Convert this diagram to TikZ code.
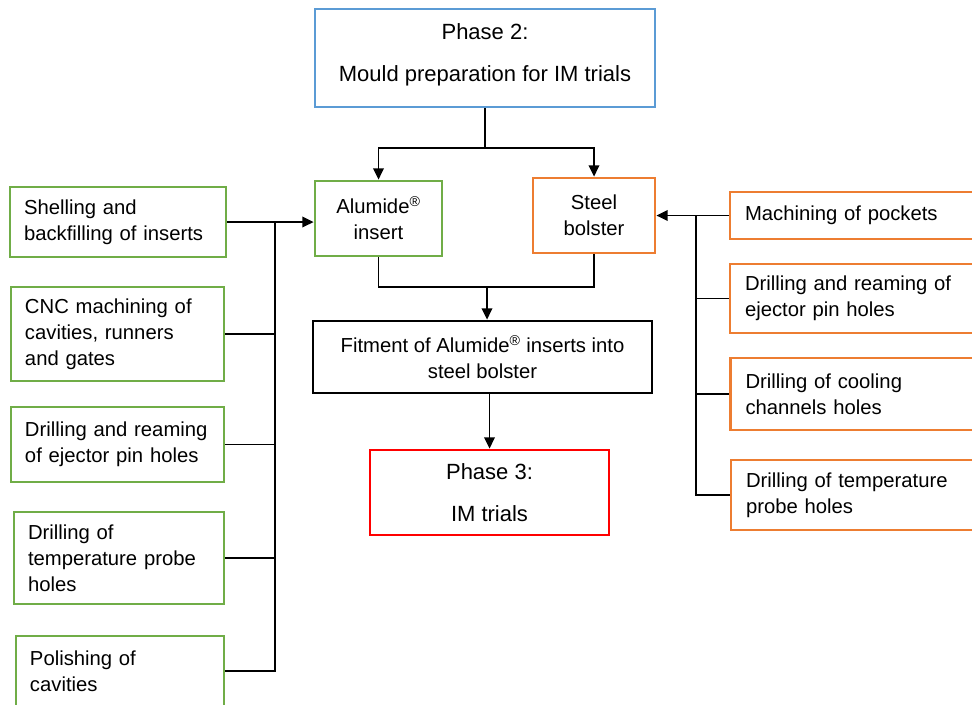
\documentclass[tikz,border=0pt]{standalone}
\usepackage{fontspec}
\setmainfont{Liberation Sans}
\usepackage{tikz}
\usetikzlibrary{positioning,arrows.meta,calc}
\definecolor{mpblue}{HTML}{5B9BD5}
\definecolor{mpgreen}{HTML}{70AD47}
\definecolor{mporange}{HTML}{ED7D31}
\definecolor{mpred}{HTML}{FF0000}
\tikzset{
  box/.style    ={draw, line width=2.1pt, inner sep=0pt, align=center,
                  font=\fontsize{15.2}{19.5}\selectfont},
  phase/.style  ={box, font=\fontsize{16.5}{19.5}\selectfont},
  insbox/.style ={box, draw=mpgreen, align=left, inner xsep=10.5pt},
  bolbox/.style ={box, draw=mporange, align=left, inner xsep=11.25pt,
                  text width=172.5pt, minimum height=#1},
  link/.style   ={line width=1.4pt},
  feed/.style   ={link, -{Triangle[length=8.5pt,width=8pt]}},
}

\begin{document}
\begin{tikzpicture}[x=0.75pt,y=-0.75pt]
  \path[use as bounding box,clip] (0,0) rectangle (972,704);
  % centre column
  \node[phase,draw=mpblue,minimum width=255pt,minimum height=73.5pt] (phasetwo) at (485,58)
    {Phase 2:\\[12pt] Mould preparation for IM trials\rule[-8pt]{0pt}{0pt}};
  \node[box,draw=mpgreen,minimum width=95.25pt,minimum height=56.25pt] (alumide) at (378.5,218.5)
    {Alumide\textsuperscript{®}\\insert};
  \node[box,draw=mporange,minimum width=91.5pt,minimum height=56.25pt] (steel) at (594,215.5)
    {Steel\\bolster};
  \node[box,minimum width=254.25pt,minimum height=54pt] (fitment) at (482.5,357)
    {Fitment of Alumide\textsuperscript{®} inserts into\\steel bolster};
  \node[phase,draw=mpred,minimum width=179.25pt,minimum height=63.75pt] (phasethree) at (489.5,492.5)
    {Phase 3:\\[12.5pt] IM trials};
  % insert steps
  \node[insbox,text width=141pt,minimum height=52.5pt] (l1) at (118,222)
    {Shelling and\\backfilling of inserts};
  \node[insbox,text width=138.75pt,minimum height=70.5pt] (l2) at (117.5,334)
    {CNC machining of\\cavities, runners\\and gates};
  \node[insbox,text width=138.75pt,minimum height=56.25pt] (l3) at (117.5,444.5)
    {Drilling and reaming\\of ejector pin holes};
  \node[insbox,text width=136.5pt,minimum height=69pt] (l4) at (119,558)
    {Drilling of\\temperature probe\\holes};
  \node[insbox,text width=135pt,minimum height=52.5pt] (l5) at (120,671)
    {Polishing of\\cavities};
  % bolster steps
  \node[bolbox=35.25pt] (r1) at (860,215.5) {Machining of pockets};
  \node[bolbox=51.75pt] (r2) at (860,298.5) {Drilling and reaming of\\ejector pin holes};
  \node[bolbox=54pt]    (r3) at (860.5,394) {Drilling of cooling\\channels holes};
  \node[bolbox=52.5pt]  (r4) at (861,495)   {Drilling of temperature\\probe holes};

  \coordinate (split) at (485,148);
  \coordinate (merge) at (487,287);
  \coordinate (lbus)  at (275,0);
  \coordinate (rbus)  at (696,0);

  \draw[link] (phasetwo.south) -- (split);
  \draw[feed] (split) -| (alumide.north);
  \draw[feed] (split) -| (steel.north);
  \draw[link] (alumide.south) |- (merge) -| (steel.south);
  \draw[feed] (merge) -- (merge |- fitment.north);
  \draw[feed] (phasethree.north |- fitment.south) -- (phasethree.north);

  \draw[feed] (l1.east) -- (l1.east -| alumide.west);
  \draw[link] (l1.east -| lbus) |- (l5.east);
  \foreach \n in {l2,l3,l4}
    \draw[link] (\n.east) -- (\n.east -| lbus);

  \draw[feed] (r1.west) -- (r1.west -| steel.east);
  \draw[link] (r1.west -| rbus) |- (r4.west);
  \foreach \n in {r2,r3}
    \draw[link] (\n.west) -- (\n.west -| rbus);
\end{tikzpicture}
\end{document}
